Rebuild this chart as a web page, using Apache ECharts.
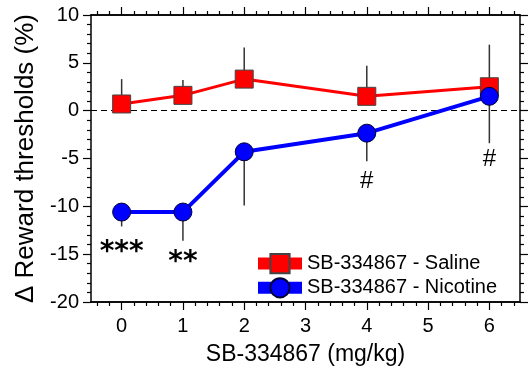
<!DOCTYPE html>
<html>
<head>
<meta charset="utf-8">
<script src="https://cdn.jsdelivr.net/npm/echarts@6/dist/echarts.min.js"></script>
<style>
  html, body { margin: 0; padding: 0; background: #fff; }
  #chart { width: 529px; height: 371px; }
</style>
</head>
<body>
<div id="chart"></div>
<script>
// dose groups (mg/kg)
var doses = [0, 1, 2, 4, 6];
// saline group: mean and upward SEM
var salineMean = [0.7, 1.6, 3.3, 1.5, 2.5];
var salineErr = [2.6, 1.6, 3.3, 3.2, 4.4];
// nicotine group: mean and downward SEM
var nicotineMean = [-10.6, -10.6, -4.3, -2.35, 1.5];
var nicotineErr = [1.5, 3.0, 5.6, 2.95, 4.9];
// significance marks
var markX = [0, 1, 4, 6];
var markY = [-14.8, -15.9, -7.4, -5.1];
var markText = ['***', '**', '#', '#'];
var markFont = [28, 28, 24, 24];

var majorTicks = [0, 1, 2, 3, 4, 5, 6];
var minorTicks = [];
for (var t = -4; t <= 64; t += 2) {
  if (t % 10 !== 0) minorTicks.push(t / 10);
}

var font = 'Liberation Sans, Arial, sans-serif';

var mychart = echarts.init(document.getElementById('chart'));

function errData(mean, err, dir) {
  return doses.map(function (d, i) { return [d, mean[i], dir * err[i]]; });
}

function renderErr(params, api) {
  var x = api.value(0), y = api.value(1), e = api.value(2);
  var p0 = api.coord([x, y]);
  var p1 = api.coord([x, y + e]);
  return {
    type: 'line',
    shape: { x1: p0[0], y1: p0[1], x2: p1[0], y2: p1[1] },
    style: { stroke: '#333', lineWidth: 1.5 }
  };
}

function xAx(pos, ticks, len, labels) {
  return {
    type: 'value',
    position: pos,
    min: -0.5,
    max: 6.5,
    axisLine: { show: true, onZero: false, lineStyle: { color: '#000', width: 1.5 } },
    axisTick: { show: true, customValues: ticks, length: len, lineStyle: { color: '#000', width: 1.2 } },
    axisLabel: labels ? {
      show: true, customValues: ticks, color: '#000', fontSize: 20, fontFamily: font, margin: 14
    } : { show: false },
    splitLine: { show: false }
  };
}

var xAxes = [
  xAx('bottom', majorTicks, 8, true),
  xAx('bottom', minorTicks, 4, false),
  xAx('top', majorTicks, 8, false),
  xAx('top', minorTicks, 4, false)
];
xAxes[0].name = 'SB-334867 (mg/kg)';
xAxes[0].nameLocation = 'middle';
xAxes[0].nameGap = 41;
xAxes[0].nameTextStyle = { color: '#000', fontSize: 23, fontFamily: font };

function yAx(pos, labels) {
  return {
    type: 'value',
    position: pos,
    min: -20,
    max: 10,
    interval: 5,
    axisLine: { show: true, onZero: false, lineStyle: { color: '#000', width: 1.5 } },
    axisTick: { show: true, length: 8, lineStyle: { color: '#000', width: 1.2 } },
    minorTick: { show: true, splitNumber: 5, length: 4, lineStyle: { color: '#000', width: 1.2 } },
    axisLabel: labels ? { show: true, color: '#000', fontSize: 20, fontFamily: font, margin: 12 } : { show: false },
    splitLine: { show: false },
    minorSplitLine: { show: false }
  };
}

var yAxes = [yAx('left', true), yAx('right', false)];
yAxes[0].name = '\u0394 Reward thresholds (%)';
yAxes[0].nameLocation = 'middle';
yAxes[0].nameGap = 51;
yAxes[0].nameTextStyle = { color: '#000', fontSize: 26, fontFamily: font };

var option = {
  animation: false,
  backgroundColor: '#fff',
  grid: { left: 91, right: 9, top: 15, bottom: 69 },
  xAxis: xAxes,
  yAxis: yAxes,
  legend: {
    orient: 'vertical',
    left: 247,
    top: 248,
    itemWidth: 44,
    itemHeight: 24,
    itemGap: 3,
    lineStyle: { width: 12 },
    textStyle: { color: '#000', fontSize: 20, fontFamily: font },
    data: ['SB-334867 - Saline', 'SB-334867 - Nicotine']
  },
  series: [
    {
      type: 'custom',
      xAxisIndex: 0, yAxisIndex: 0,
      renderItem: renderErr,
      data: errData(salineMean, salineErr, 1),
      z: 1
    },
    {
      type: 'custom',
      xAxisIndex: 0, yAxisIndex: 0,
      renderItem: renderErr,
      data: errData(nicotineMean, nicotineErr, -1),
      z: 1
    },
    {
      name: 'SB-334867 - Saline',
      type: 'line',
      xAxisIndex: 0, yAxisIndex: 0,
      data: doses.map(function (d, i) { return [d, salineMean[i]]; }),
      symbol: 'rect',
      symbolSize: 18,
      lineStyle: { color: '#ff0000', width: 3 },
      itemStyle: { color: '#ff0000', borderColor: '#444', borderWidth: 1 },
      z: 3,
      markLine: {
        silent: true,
        symbol: 'none',
        label: { show: false },
        lineStyle: { color: '#000', type: [6, 4], width: 1.2 },
        data: [{ yAxis: 0 }],
        z: 2
      }
    },
    {
      name: 'SB-334867 - Nicotine',
      type: 'line',
      xAxisIndex: 0, yAxisIndex: 0,
      data: doses.map(function (d, i) { return [d, nicotineMean[i]]; }),
      symbol: 'circle',
      symbolSize: 18,
      lineStyle: { color: '#0000ff', width: 4 },
      itemStyle: { color: '#0000ff', borderColor: '#000033', borderWidth: 1 },
      z: 4
    },
    {
      type: 'scatter',
      xAxisIndex: 0, yAxisIndex: 0,
      symbolSize: 0,
      itemStyle: { color: '#000' },
      silent: true,
      data: markX.map(function (x, i) {
        var star = markText[i].charAt(0) === '*';
        return {
          value: [x, markY[i]],
          label: {
            show: true,
            position: 'inside',
            formatter: markText[i],
            color: '#000',
            opacity: 1,
            textBorderWidth: 0,
            fontSize: markFont[i],
            fontWeight: star ? 'bold' : 'normal',
            fontFamily: star ? 'DejaVu Sans' : font
          }
        };
      }),
      z: 5
    }
  ]
};

mychart.setOption(option);
</script>
</body>
</html>
